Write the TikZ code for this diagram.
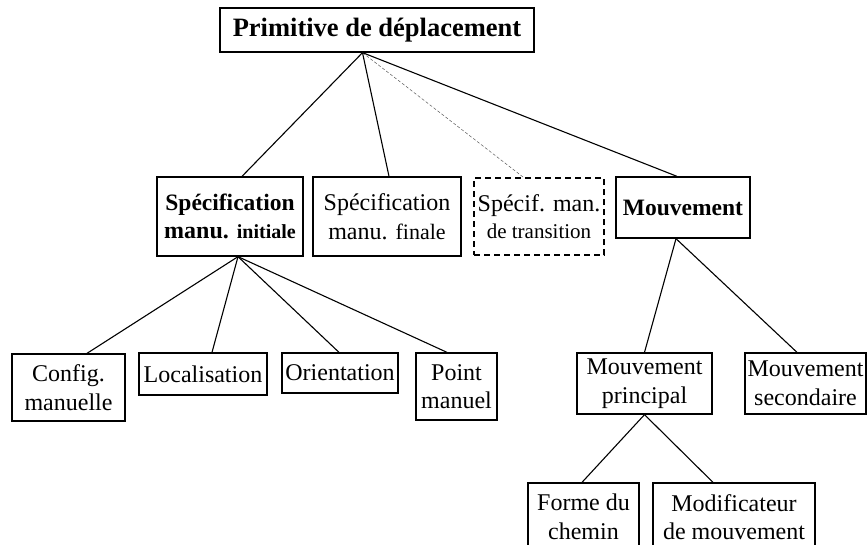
\documentclass[tikz,border=0pt]{standalone}
\usepackage{fontspec}
\setmainfont{Liberation Serif}
\begin{document}
\begin{tikzpicture}[x=1pt,y=-1pt,
  box/.style={draw, line width=1.3pt, inner sep=0pt, align=center,
    font=\fontsize{24}{28.5}\selectfont},
  dbox/.style={box, dash pattern=on 6pt off 4pt, line width=2pt},
  link/.style={line width=1.1pt},
  dlink/.style={line width=0.5pt, gray!70!black, dash pattern=on 3pt off 2pt}]
\useasboundingbox (0,0) rectangle (867,544);
\clip (0,0) rectangle (867,544);

% top of the tree
\node[box, minimum width=314pt, minimum height=44pt,
  font=\fontsize{26.5}{30}\selectfont\bfseries] (root) at (377,30)
  {Primitive de déplacement};

% second level
\node[box, minimum width=146pt, minimum height=79pt] (init) at (230,216.5)
  {\bfseries\fontsize{23.5}{28.5}\selectfont Spécification\\
   \bfseries manu. {\fontsize{20}{24}\selectfont initiale}};
\node[box, minimum width=148pt, minimum height=79pt] (fin) at (387,216.5)
  {Spécification\\manu. {\fontsize{22}{26}\selectfont finale}};
\node[dbox, minimum width=130pt, minimum height=77pt] (trans) at (539,216.5)
  {Spécif. man.\\[-2pt]{\fontsize{21}{25}\selectfont de transition}};
\node[box, minimum width=134pt, minimum height=61pt,
  font=\fontsize{23.5}{28}\selectfont\bfseries] (mouv) at (683,207.5)
  {Mouvement};

% components of the initial hand specification
\node[box, minimum width=113pt, minimum height=67pt] (config) at (68.5,387.5)
  {Config.\\manuelle};
\node[box, minimum width=128pt, minimum height=42pt] (local) at (203,374)
  {Localisation};
\node[box, minimum width=116pt, minimum height=40pt] (orient) at (340,373)
  {Orientation};
\node[box, minimum width=81pt, minimum height=67pt] (point) at (456.5,386.5)
  {Point\\manuel};

% movement decomposition
\node[box, minimum width=135pt, minimum height=61pt] (princ) at (644.5,383.5)
  {Mouvement\\principal};
\node[box, minimum width=121pt, minimum height=61pt] (second) at (805.5,383.5)
  {Mouvement\\secondaire};
\node[box, minimum width=111pt, minimum height=68pt] (forme) at (583.5,517)
  {Forme du\\chemin};
\node[box, minimum width=162pt, minimum height=68pt] (modif) at (734,517)
  {Modificateur\\de mouvement};

% connectors
\draw[link] ([xshift=-14.5pt]root.south) -- ([xshift=12pt]init.north);
\draw[link] ([xshift=-14.5pt]root.south) -- ([xshift=2pt]fin.north);
\draw[dlink] ([xshift=-14.5pt]root.south) -- ([xshift=-16pt]trans.north);
\draw[link] ([xshift=-14.5pt]root.south) -- ([xshift=-6pt]mouv.north);

\draw[link] ([xshift=8pt]init.south) -- ([xshift=18.5pt]config.north);
\draw[link] ([xshift=8pt]init.south) -- ([xshift=9pt]local.north);
\draw[link] ([xshift=8pt]init.south) -- ([xshift=-1pt]orient.north);
\draw[link] ([xshift=8pt]init.south) -- ([xshift=-9.5pt]point.north);

\draw[link] ([xshift=-7pt]mouv.south) -- (princ.north);
\draw[link] ([xshift=-7pt]mouv.south) -- ([xshift=-8.5pt]second.north);

\draw[link] (princ.south) -- ([xshift=-1.5pt]forme.north);
\draw[link] (princ.south) -- ([xshift=-21pt]modif.north);
\end{tikzpicture}
\end{document}
